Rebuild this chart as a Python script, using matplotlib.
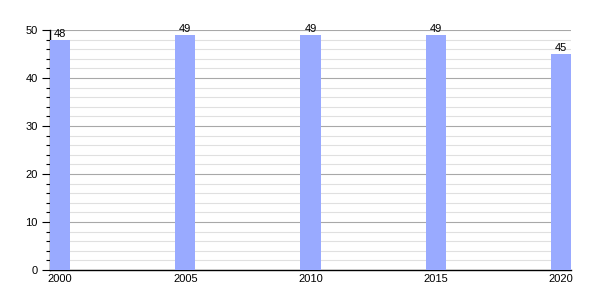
import matplotlib
matplotlib.use("Agg")
from matplotlib import pyplot as plt
from matplotlib.ticker import MultipleLocator

YEARS = [2000, 2005, 2010, 2015, 2020]
VALUES = [48, 49, 49, 49, 45]
BAR_COLOR = '#99aaff'

plt.rcParams['font.family'] = ['Liberation Sans', 'DejaVu Sans']

fig = plt.figure(figsize=(6, 3), dpi=100)
ax = fig.add_axes([50 / 600, 30 / 300, 521 / 600, 240 / 300])

ax.bar(YEARS, VALUES, width=0.8, color=BAR_COLOR, zorder=3)
for year, value in zip(YEARS, VALUES):
    ax.text(year, value + 0.2, str(value), ha='center', va='bottom', fontsize=8, zorder=4)

ax.set_xlim(1999.6, 2020.4)
ax.set_ylim(0, 50)
ax.set_xticks(YEARS)
ax.set_xticklabels([str(y) for y in YEARS])
ax.yaxis.set_major_locator(MultipleLocator(10))
ax.yaxis.set_minor_locator(MultipleLocator(2))

ax.grid(axis='y', which='major', color='#a8a8a8', linewidth=0.8, zorder=1)
ax.grid(axis='y', which='minor', color='#e0e0e0', linewidth=0.8, zorder=1)
ax.tick_params(axis='x', length=0, labelsize=8, pad=3)
ax.tick_params(axis='y', which='major', length=6, width=0.8, labelsize=8, pad=3)
ax.tick_params(axis='y', which='minor', length=3, width=0.8)

for side in ('top', 'right'):
    ax.spines[side].set_visible(False)
ax.spines['left'].set_linewidth(1)
ax.spines['bottom'].set_linewidth(1)

fig.savefig('out.png', dpi=100)
